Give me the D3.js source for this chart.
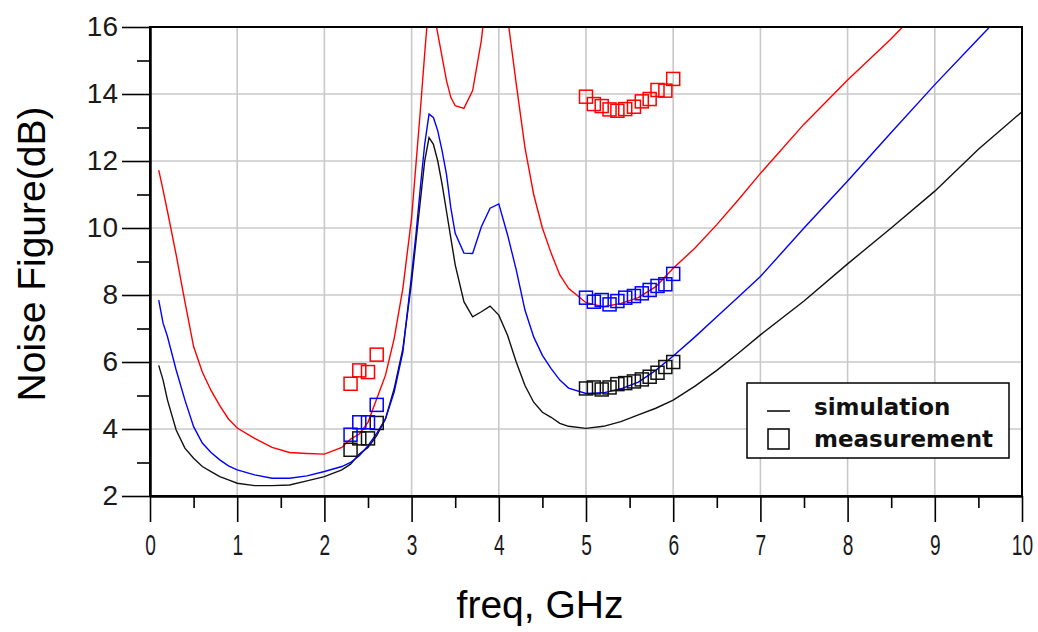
<!DOCTYPE html>
<html>
<head>
<meta charset="utf-8">
<script src="https://cdn.jsdelivr.net/npm/d3@7"></script>
<style>
  html, body { margin: 0; padding: 0; background: #fff; }
  svg { display: block; }
</style>
</head>
<body>
<svg id="chart" width="1038" height="632"></svg>
<script>
// Simulated noise figure (dB) on a shared frequency grid (GHz)
const simFreq = [0.1, 0.15, 0.2, 0.3, 0.4, 0.5, 0.6, 0.7, 0.8, 0.9, 1.0, 1.2, 1.4, 1.6, 1.8, 2.0,
  2.2, 2.3, 2.4, 2.5, 2.6, 2.7, 2.8, 2.9, 3.0, 3.05, 3.1, 3.15, 3.2, 3.25, 3.3, 3.35, 3.4, 3.45,
  3.5, 3.6, 3.7, 3.8, 3.9, 4.0, 4.1, 4.2, 4.3, 4.4, 4.5, 4.6, 4.7, 4.8, 5.0, 5.2, 5.4, 5.6, 5.8,
  6.0, 6.25, 6.5, 6.75, 7.0, 7.5, 8.0, 8.5, 9.0, 9.5, 10.0];

const simBlack = [5.9, 5.46, 4.87, 3.97, 3.43, 3.13, 2.88, 2.73, 2.58, 2.48, 2.38, 2.31, 2.31, 2.33, 2.45, 2.58,
  2.78, 2.95, 3.25, 3.45, 3.8, 4.3, 5.2, 6.4, 8.4, 9.6, 10.8, 12.0, 12.7, 12.5, 12.0, 11.3, 10.5, 9.7,
  8.9, 7.8, 7.35, 7.5, 7.67, 7.4, 6.8, 6.0, 5.3, 4.8, 4.5, 4.35, 4.17, 4.08, 4.02, 4.08, 4.22, 4.42, 4.62,
  4.86, 5.28, 5.75, 6.27, 6.81, 7.82, 8.93, 10.0, 11.1, 12.35, 13.47];

const simBlue = [7.85, 7.16, 6.76, 5.76, 4.87, 4.07, 3.58, 3.3, 3.08, 2.9, 2.78, 2.63, 2.53, 2.53, 2.6, 2.73,
  2.88, 3.0, 3.2, 3.5, 3.87, 4.3, 5.1, 6.3, 8.6, 9.8, 11.2, 12.5, 13.4, 13.3, 12.9, 12.3, 11.6, 10.6,
  9.84, 9.25, 9.24, 10.04, 10.59, 10.72, 9.8, 8.75, 7.55, 6.75, 6.2, 5.8, 5.46, 5.22, 5.06, 5.08, 5.2, 5.4, 5.75,
  6.18, 6.75, 7.35, 7.95, 8.55, 10.0, 11.4, 12.85, 14.28, 15.65, 17.0];

const simRed = [11.73, 11.13, 10.5, 9.2, 7.8, 6.46, 5.7, 5.15, 4.7, 4.3, 4.03, 3.72, 3.45, 3.3, 3.27, 3.25,
  3.45, 3.7, 3.85, 4.2, 4.9, 5.6, 6.7, 8.2, 10.3, 11.9, 13.5, 15.2, 16.8, 16.5, 15.8, 15.1, 14.4, 13.9,
  13.65, 13.57, 14.1, 15.6, 18.0, 19.0, 16.3, 14.3, 12.4, 11.0, 10.0, 9.25, 8.6, 8.2, 7.77, 7.65, 7.75, 7.92, 8.25,
  8.8, 9.4, 10.1, 10.85, 11.63, 13.1, 14.42, 15.65, 17.0, 18.4, 19.6];

// Measured noise figure (dB): low band and high band frequency points (GHz)
const measFreqLow = [2.3, 2.4, 2.5, 2.6];
const measBlackLow = [3.38, 3.72, 3.72, 4.18];
const measBlueLow = [3.83, 4.2, 4.2, 4.72];
const measRedLow = [5.35, 5.75, 5.7, 6.22];

const measFreqHigh = [5.0, 5.09, 5.18, 5.27, 5.36, 5.45, 5.55, 5.64, 5.73, 5.82, 5.91, 6.0];
const measBlackHigh = [5.21, 5.24, 5.18, 5.24, 5.34, 5.37, 5.42, 5.48, 5.56, 5.68, 5.85, 6.0];
const measBlueHigh = [7.92, 7.8, 7.85, 7.72, 7.82, 7.92, 7.97, 8.05, 8.15, 8.27, 8.32, 8.63];
const measRedHigh = [13.92, 13.7, 13.64, 13.54, 13.5, 13.55, 13.62, 13.78, 13.85, 14.12, 14.1, 14.45];

// Axis ticks
const xMajorTicks = [0, 1, 2, 3, 4, 5, 6, 7, 8, 9, 10];
const xMinorTicks = [0.5, 1.5, 2.5, 3.5, 4.5, 5.5, 6.5, 7.5, 8.5, 9.5];
const yMajorTicks = [2, 4, 6, 8, 10, 12, 14, 16];
const yMinorTicks = [3, 5, 7, 9, 11, 13, 15];

const legendLabels = ["simulation", "measurement"];

const svg = d3.select("#chart");
const plotLeft = 150, plotRight = 1022, plotTop = 27, plotBottom = 496;

const x = d3.scaleLinear().domain([0, 10]).range([plotLeft, plotRight]);
const y = d3.scaleLinear().domain([2, 16]).range([plotBottom, plotTop]);

svg.append("defs").append("clipPath").attr("id", "plotClip")
  .append("rect").attr("x", plotLeft).attr("y", plotTop)
  .attr("width", plotRight - plotLeft).attr("height", plotBottom - plotTop);

// Grid
const grid = svg.append("g").attr("stroke", "#c8c8c8").attr("stroke-width", 1.6);
grid.selectAll("line.gx").data(xMajorTicks.filter(d => d > 0 && d < 10)).join("line")
  .attr("class", "gx")
  .attr("x1", d => x(d)).attr("x2", d => x(d)).attr("y1", plotTop).attr("y2", plotBottom);
grid.selectAll("line.gy").data(yMajorTicks.filter(d => d > 2 && d < 16)).join("line")
  .attr("class", "gy")
  .attr("y1", d => y(d)).attr("y2", d => y(d)).attr("x1", plotLeft).attr("x2", plotRight);

// Simulation curves and their measurement sets
const series = [
  { values: simBlack, color: "#111111", low: measBlackLow, high: measBlackHigh },
  { values: simBlue, color: "#0000ff", low: measBlueLow, high: measBlueHigh },
  { values: simRed, color: "#ff0000", low: measRedLow, high: measRedHigh }
];

const line = d3.line().x(d => x(d[0])).y(d => y(d[1]));
const plot = svg.append("g").attr("clip-path", "url(#plotClip)");
series.forEach(s => {
  plot.append("path")
    .datum(simFreq.map((f, i) => [f, s.values[i]]))
    .attr("fill", "none").attr("stroke", s.color).attr("stroke-width", 1.4)
    .attr("d", line);
});

// Measurement squares
const sq = 13;
series.forEach(s => {
  const pts = measFreqLow.map((f, i) => [f, s.low[i]])
    .concat(measFreqHigh.map((f, i) => [f, s.high[i]]));
  plot.append("g").selectAll("rect").data(pts).join("rect")
    .attr("x", d => x(d[0]) - sq / 2).attr("y", d => y(d[1]) - sq / 2)
    .attr("width", sq).attr("height", sq)
    .attr("fill", "none").attr("stroke", s.color).attr("stroke-width", 1.5);
});

// Frame
svg.append("rect").attr("x", plotLeft).attr("y", plotTop)
  .attr("width", plotRight - plotLeft).attr("height", plotBottom - plotTop)
  .attr("fill", "none").attr("stroke", "#000").attr("stroke-width", 2);

// Axes
const tickFont = "'Liberation Sans', Arial, sans-serif";
const xAxis = svg.append("g").attr("transform", `translate(0,${plotBottom})`)
  .call(d3.axisBottom(x).tickValues(xMajorTicks).tickSize(26).tickSizeOuter(0).tickPadding(12).tickFormat(d3.format("d")));
const xMinor = svg.append("g").attr("transform", `translate(0,${plotBottom})`)
  .call(d3.axisBottom(x).tickValues(xMinorTicks).tickSize(12).tickSizeOuter(0).tickFormat(""));
const yAxis = svg.append("g").attr("transform", `translate(${plotLeft},0)`)
  .call(d3.axisLeft(y).tickValues(yMajorTicks).tickSize(28).tickSizeOuter(0).tickPadding(4).tickFormat(d3.format("d")));
const yMinor = svg.append("g").attr("transform", `translate(${plotLeft},0)`)
  .call(d3.axisLeft(y).tickValues(yMinorTicks).tickSize(13).tickSizeOuter(0).tickFormat(""));

[xAxis, xMinor, yAxis, yMinor].forEach(g => {
  g.select(".domain").attr("stroke", "#000").attr("stroke-width", 2);
  g.selectAll(".tick line").attr("stroke", "#000").attr("stroke-width", 1.6);
  g.selectAll(".tick text").attr("font-family", tickFont).attr("fill", "#1a1a1a");
});
yAxis.selectAll(".tick text").attr("font-size", 28);
// frequency labels are set in a tall, condensed style
xAxis.selectAll(".tick text").attr("font-size", 29).attr("transform", "scale(0.66,1)");

// Axis titles
svg.append("text")
  .attr("x", 540).attr("y", 618)
  .attr("text-anchor", "middle")
  .attr("font-family", tickFont).attr("font-size", 39).attr("fill", "#000")
  .text("freq, GHz");

svg.append("text")
  .attr("transform", "translate(45,254) rotate(-90)")
  .attr("text-anchor", "middle")
  .attr("font-family", tickFont).attr("font-size", 39).attr("fill", "#000")
  .text("Noise Figure(dB)");

// Legend
const lg = svg.append("g");
lg.append("rect").attr("x", 747).attr("y", 383).attr("width", 262).attr("height", 75)
  .attr("fill", "#fff").attr("stroke", "#000").attr("stroke-width", 1.5);
lg.append("line").attr("x1", 767).attr("x2", 790).attr("y1", 411).attr("y2", 411)
  .attr("stroke", "#000").attr("stroke-width", 1.5);
lg.append("rect").attr("x", 768).attr("y", 429).attr("width", 21).attr("height", 20)
  .attr("fill", "none").attr("stroke", "#000").attr("stroke-width", 1.5);
lg.selectAll("text").data(legendLabels).join("text")
  .attr("x", 814).attr("y", (d, i) => 415 + i * 32)
  .attr("font-family", "'DejaVu Sans', Verdana, sans-serif").attr("font-weight", "bold")
  .attr("font-size", 23).attr("fill", "#111")
  .text(d => d);
</script>
</body>
</html>
